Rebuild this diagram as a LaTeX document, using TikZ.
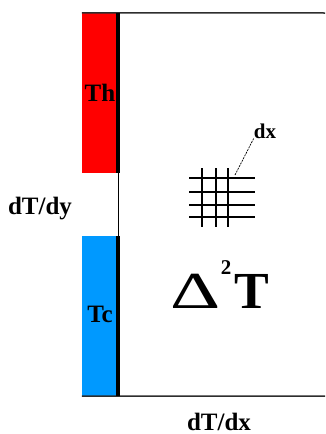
\documentclass[tikz,border=0pt]{standalone}
\usepackage{fontspec}
\setmainfont{Liberation Serif}
\usepackage{graphicx}
\usetikzlibrary{positioning}
\definecolor{hotRed}{RGB}{255,0,0}
\definecolor{coldBlue}{RGB}{0,153,255}
\definecolor{wallGray}{RGB}{45,45,45}

\begin{document}
\begin{tikzpicture}[x=1pt, y=-1pt,
  side/.style={minimum width=36pt, minimum height=160pt, inner sep=0pt,
               font=\fontsize{25}{25}\selectfont\bfseries},
  lbl/.style={inner sep=0pt, font=\fontsize{25}{25}\selectfont\bfseries},
  gridln/.style={line width=1.4pt}]

  \useasboundingbox (0,0) rectangle (325,434);

  \node[side, fill=hotRed]   (hot)  at (100,93)  {Th};
  \node[side, fill=coldBlue] (cold) at (100,316) {\raisebox{4pt}{Tc}};

  \draw[wallGray, line width=1.5pt] (hot.north west) -- (325,13);
  \draw[wallGray, line width=1.5pt] (cold.south west) -- (325,396);
  \draw[line width=3.5pt] (hot.north east) -- (hot.south east);
  \draw[line width=3.5pt] (cold.north east) -- (cold.south east);
  \draw[line width=0.8pt] (hot.south east) -- (cold.north east);

  \node[lbl, anchor=base] (dtdy) at (40,214)  {dT/dy};
  \node[lbl, anchor=base] (dtdx) at (219,430) {dT/dx};

  \foreach \y in {178,192,205,217}
    \draw[gridln] (189,\y) -- (255,\y);
  \foreach \x in {202,216,228}
    \draw[gridln] (\x,168) -- (\x,227);

  \coordinate (cell) at (235,175);
  \node[lbl, anchor=base, font=\fontsize{21}{21}\selectfont\bfseries] (dx) at (265,138) {dx};
  \draw[dash pattern=on 2pt off 1pt, line width=0.7pt] (cell) -- (dx.south west);

  \node[lbl, anchor=base west, font=\fontsize{52}{52}\selectfont\mdseries] (delta) at (170,308)
    {\scalebox{1.5}[1]{Δ}\kern0.5pt\raisebox{34pt}{\fontsize{21}{21}\selectfont\bfseries 2}};
  \node[lbl, anchor=base west, font=\fontsize{52}{52}\selectfont\bfseries] (temp) at (234,308) {T};

\end{tikzpicture}
\end{document}
